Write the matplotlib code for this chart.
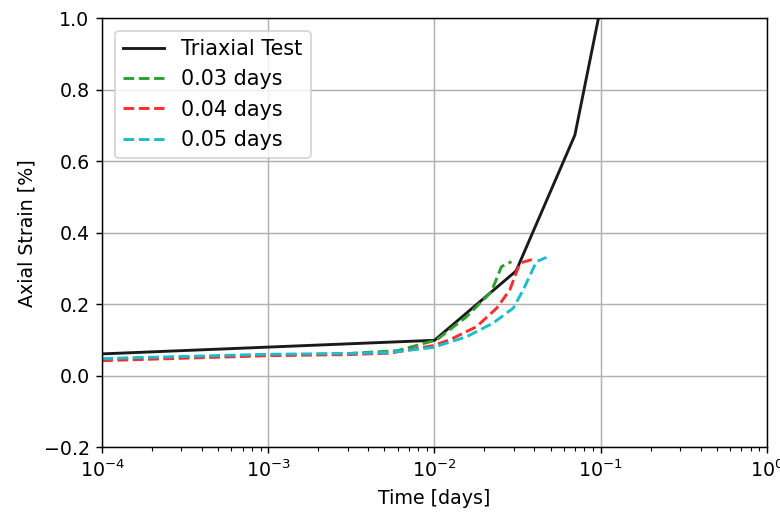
import matplotlib
matplotlib.use("Agg")
import matplotlib.pyplot as plt

# Triaxial test (solid black)
tri_t = [1e-4, 1e-2, 0.031, 0.070, 0.100, 0.12]
tri_s = [0.061, 0.099, 0.293, 0.673, 1.03, 1.4]

# simulated curves
t_03 = [1e-4, 1e-3, 3e-3, 6e-3, 0.0103, 0.0156, 0.022, 0.0253, 0.0291]
s_03 = [0.047, 0.057, 0.062, 0.070, 0.100, 0.165, 0.235, 0.305, 0.319]

t_04 = [1e-4, 1e-3, 3e-3, 5.4e-3, 0.0098, 0.0123, 0.0179, 0.0237, 0.0284, 0.0327, 0.0393]
s_04 = [0.042, 0.056, 0.059, 0.063, 0.084, 0.100, 0.137, 0.189, 0.240, 0.315, 0.326]

t_05 = [1e-4, 1e-3, 3e-3, 5.4e-3, 0.0098, 0.0156, 0.0225, 0.0298, 0.0342, 0.0411, 0.0472]
s_05 = [0.048, 0.060, 0.062, 0.065, 0.079, 0.109, 0.147, 0.189, 0.240, 0.319, 0.331]

plt.rcParams["font.size"] = 10.5

fig = plt.figure(figsize=(6, 4), dpi=130)
ax = fig.add_axes([0.131, 0.140, 0.852, 0.825])

ax.plot(tri_t, tri_s, color="#1a1a1a", lw=1.6, label="Triaxial Test")
ax.plot(t_03, s_03, "--", color="#2ca02c", lw=1.6, label="0.03 days")
ax.plot(t_04, s_04, "--", color="#ff2a2a", lw=1.6, label="0.04 days")
ax.plot(t_05, s_05, "--", color="#17becf", lw=1.6, label="0.05 days")

ax.set_xscale("log")
ax.set_xlim(1e-4, 1)
ax.set_ylim(-0.2, 1.0)
ax.grid(True)
ax.set_xlabel("Time [days]")
ax.set_ylabel("Axial Strain [%]")
ax.legend(loc="upper left", fontsize=11.5, borderaxespad=0.6)

fig.savefig("out.png", dpi=130)
